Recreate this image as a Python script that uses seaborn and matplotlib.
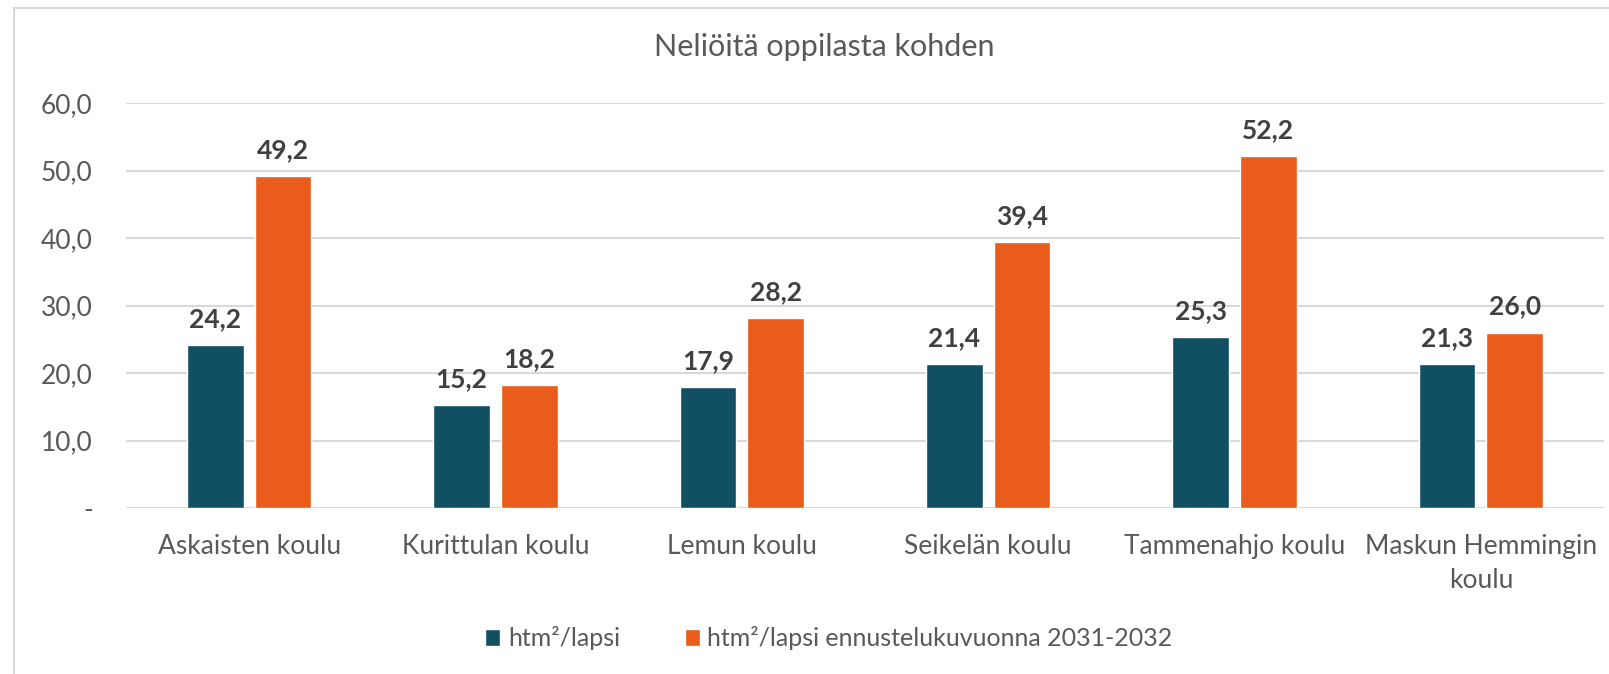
import matplotlib.pyplot as plt
import pandas as pd
import seaborn as sns
from matplotlib.lines import Line2D

schools = ['Askaisten koulu', 'Kurittulan koulu', 'Lemun koulu', 'Seikelän koulu',
           'Tammenahjo koulu', 'Maskun Hemmingin\nkoulu']
current = [24.2, 15.2, 17.9, 21.4, 25.3, 21.3]
forecast = [49.2, 18.2, 28.2, 39.4, 52.2, 26.0]
series = ['htm²/lapsi', 'htm²/lapsi ennustelukuvuonna 2031-2032']
colors = ['#114F63', '#E95C1B']
yticks = [0, 10, 20, 30, 40, 50, 60]

df = pd.DataFrame({
    'school': schools * 2,
    'value': current + forecast,
    'series': [series[0]] * len(schools) + [series[1]] * len(schools),
})

sns.set_style('white')
plt.rcParams['font.family'] = ['Lato', 'DejaVu Sans']
gray = '#595959'

fig = plt.figure(figsize=(16.09, 6.74), dpi=100)
ax = fig.add_axes([126 / 1609, 1 - 508 / 674, (1604 - 126) / 1609, (508 - 103) / 674])

sns.barplot(data=df, x='school', y='value', hue='series', palette=colors,
            width=0.55, gap=0.16, saturation=1, ax=ax, legend=True)

for cont in ax.containers:
    ax.bar_label(cont, labels=[f'{v:.1f}'.replace('.', ',') for v in cont.datavalues],
                 padding=10, fontsize=19, fontweight='bold', color='#404040')

ax.set_ylim(0, 60)
ax.set_xlim(-0.5, len(schools) - 0.5)
ax.set_yticks(yticks)
ax.set_yticklabels(['-'] + [f'{t:.1f}'.replace('.', ',') for t in yticks[1:]])
ax.yaxis.grid(True, color='#D9D9D9', linewidth=1.5)
ax.set_axisbelow(True)
for s in ax.spines.values():
    s.set_visible(False)
ax.tick_params(axis='y', length=0, pad=24, labelsize=19, labelcolor=gray)
ax.tick_params(axis='x', length=0, pad=19, labelsize=19, labelcolor=gray)
for lbl in ax.get_xticklabels():
    lbl.set_linespacing(1.45)
ax.set_xlabel('')
ax.set_ylabel('')

leg_x = (829 - 126) / (1604 - 126)
leg_y = (508 - 638) / (508 - 103)
ax.legend(loc='center', bbox_to_anchor=(leg_x, leg_y),
          ncol=2, frameon=False, fontsize=18, labelcolor=gray,
          handlelength=0.6, handleheight=0.7, handletextpad=0.3, columnspacing=2.6)

fig.text(824 / 1609, 1 - 47 / 674, 'Neliöitä oppilasta kohden', ha='center', va='center',
         fontsize=22, color=gray)

# chart frame
fig.add_artist(Line2D([14 / 1609, 14 / 1609], [0, 1 - 8 / 674], transform=fig.transFigure,
                      color='#D9D9D9', linewidth=1.5))
fig.add_artist(Line2D([14 / 1609, 1], [1 - 8 / 674, 1 - 8 / 674], transform=fig.transFigure,
                      color='#D9D9D9', linewidth=1.5))

fig.savefig('out.png', dpi=100)
